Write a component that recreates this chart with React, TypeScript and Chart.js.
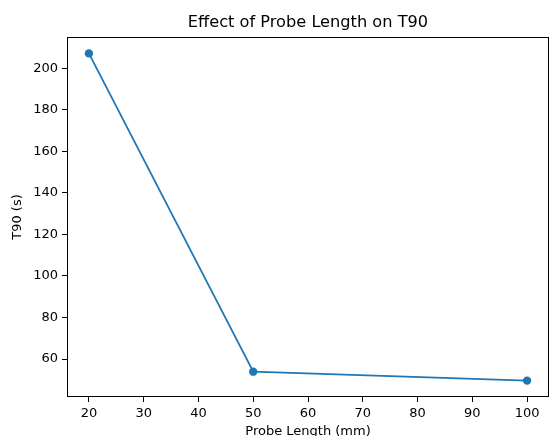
import React, { useEffect, useRef } from "react";
import { Chart, registerables } from "chart.js";

Chart.register(...registerables);

const probeLengths = [20, 50, 100];
const t90Values = [207.2, 53.9, 49.6];
const xTicks = [20, 30, 40, 50, 60, 70, 80, 90, 100];
const yTicks = [60, 80, 100, 120, 140, 160, 180, 200];
const titleText = "Effect of Probe Length on T90";

const FONT = "'DejaVu Sans', sans-serif";

const boxPlugin = {
  id: "boxPlugin",
  afterDatasetsDraw(chart: any) {
    const { ctx, chartArea } = chart;
    ctx.save();
    ctx.strokeStyle = "#000";
    ctx.lineWidth = 1;
    ctx.strokeRect(
      Math.round(chartArea.left) + 0.5,
      Math.round(chartArea.top) + 0.5,
      Math.round(chartArea.right - chartArea.left) - 1,
      Math.round(chartArea.bottom - chartArea.top) - 1
    );
    ctx.restore();
  },
  afterDraw(chart: any) {
    const { ctx, chartArea } = chart;
    ctx.save();
    ctx.fillStyle = "#000";
    ctx.font = `16.2px ${FONT}`;
    ctx.textAlign = "center";
    ctx.textBaseline = "alphabetic";
    ctx.fillText(titleText, (chartArea.left + chartArea.right) / 2, 27);
    ctx.restore();
  },
};

export default function App() {
  const ref = useRef<HTMLCanvasElement | null>(null);
  useEffect(() => {
    if (!ref.current) return;
    const chart = new Chart(ref.current, {
      type: "line",
      data: {
        datasets: [
          {
            data: probeLengths.map((x, i) => ({ x, y: t90Values[i] })),
            borderColor: "#1f77b4",
            backgroundColor: "#1f77b4",
            borderWidth: 1.8,
            pointRadius: 4.2,
            pointBackgroundColor: "#1f77b4",
            pointBorderWidth: 0,
            tension: 0,
          },
        ],
      },
      options: {
        responsive: false,
        animation: false,
        devicePixelRatio: 1,
        layout: { autoPadding: false, padding: { left: 0, right: -1.5, top: 37, bottom: 0 } },
        plugins: {
          legend: { display: false },
          tooltip: { enabled: false },
          title: { display: false },
        },
        scales: {
          x: {
            type: "linear",
            min: 16,
            max: 104,
            afterBuildTicks: (s: any) => {
              s.ticks = xTicks.map((v) => ({ value: v }));
            },
            afterFit: (s: any) => {
              s.height = 39;
              s.paddingLeft = 0;
              s.paddingRight = 0;
            },
            border: { display: false },
            grid: {
              drawOnChartArea: false,
              drawTicks: true,
              tickLength: 5,
              tickColor: "#000",
              tickWidth: 1,
            },
            ticks: {
              color: "#000",
              padding: 4,
              maxRotation: 0,
              autoSkip: false,
              font: { family: FONT, size: 13 },
            },
            title: {
              display: true,
              text: "Probe Length (mm)",
              color: "#000",
              font: { family: FONT, size: 13, lineHeight: 1.2 },
              padding: { top: 0, bottom: -3.4 },
            },
          },
          y: {
            type: "linear",
            min: 41.7,
            max: 215.1,
            afterBuildTicks: (s: any) => {
              s.ticks = yTicks.map((v) => ({ value: v }));
            },
            afterFit: (s: any) => {
              s.width = 67;
              s.paddingTop = 0;
              s.paddingBottom = 0;
            },
            border: { display: false },
            grid: {
              drawOnChartArea: false,
              drawTicks: true,
              tickLength: 5,
              tickColor: "#000",
              tickWidth: 1,
            },
            ticks: {
              color: "#000",
              padding: 4,
              autoSkip: false,
              font: { family: FONT, size: 13 },
            },
            title: {
              display: true,
              text: "T90 (s)",
              color: "#000",
              font: { family: FONT, size: 13, lineHeight: 1.2 },
              padding: { top: 10, bottom: 0 },
            },
          },
        },
      },
      plugins: [boxPlugin],
    } as any);
    return () => chart.destroy();
  }, []);
  return (
    <div style={{ position: "absolute", left: 0, top: 0, width: 549, height: 436, background: "#fff" }}>
      <canvas ref={ref} width={549} height={436} style={{ display: "block", width: 549, height: 436 }} />
    </div>
  );
}
